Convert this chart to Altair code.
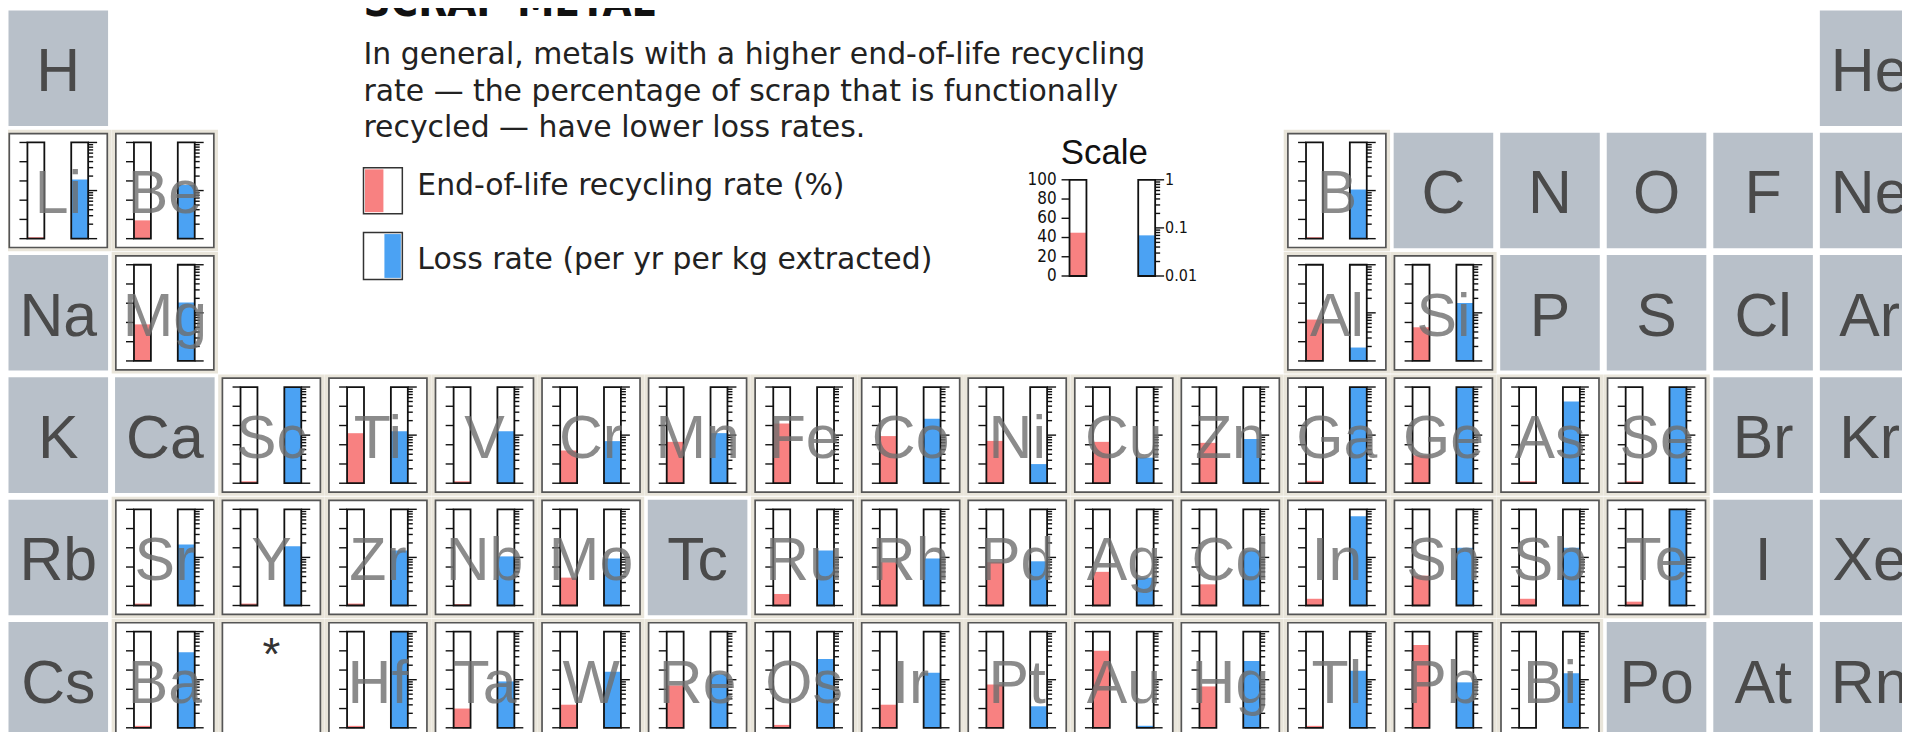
import altair as alt
import pandas as pd
import numpy as np

# ---------------- data ----------------
grey_symbols = ["H", "He", "C", "N", "O", "F", "Ne", "Na", "P", "S", "Cl", "Ar",
                "K", "Ca", "Br", "Kr", "Rb", "Tc", "I", "Xe", "Cs", "Po", "At", "Rn"]
grey_group = [1, 18, 14, 15, 16, 17, 18, 1, 15, 16, 17, 18,
              1, 2, 17, 18, 1, 7, 17, 18, 1, 16, 17, 18]
grey_period = [1, 1, 2, 2, 2, 2, 2, 3, 3, 3, 3, 3,
               4, 4, 4, 4, 5, 5, 5, 5, 6, 6, 6, 6]

metal_symbols = ["Li", "Be", "B", "Mg", "Al", "Si",
                 "Sc", "Ti", "V", "Cr", "Mn", "Fe", "Co", "Ni", "Cu", "Zn", "Ga", "Ge", "As", "Se",
                 "Sr", "Y", "Zr", "Nb", "Mo", "Ru", "Rh", "Pd", "Ag", "Cd", "In", "Sn", "Sb", "Te",
                 "Ba", "Hf", "Ta", "W", "Re", "Os", "Ir", "Pt", "Au", "Hg", "Tl", "Pb", "Bi"]
metal_group = [1, 2, 13, 2, 13, 14,
               3, 4, 5, 6, 7, 8, 9, 10, 11, 12, 13, 14, 15, 16,
               2, 3, 4, 5, 6, 8, 9, 10, 11, 12, 13, 14, 15, 16,
               2, 4, 5, 6, 7, 8, 9, 10, 11, 12, 13, 14, 15]
metal_period = [2, 2, 2, 3, 3, 3] + [4] * 14 + [5] * 14 + [6] * 13
# end-of-life recycling rate (%)
recycling_rate = [1.5, 19, 1.5, 38, 43, 35,
                  2, 52, 2, 34, 43, 62, 49, 44, 43, 42, 2.5, 29, 2, 2,
                  2, 2, 2, 1.5, 29, 12, 45, 45, 35, 22, 7, 31, 7, 4,
                  2, 2, 20, 24, 44, 3, 24, 45, 80, 43, 2, 86, 0]
# loss rate (per yr per kg extracted), log scale 0.01 - 1
loss_rate = [0.17, 0.13, 0.105, 0.165, 0.019, 0.16,
             1.0, 0.12, 0.12, 0.075, 0.11, 0.0101, 0.22, 0.025, 0.034, 0.083, 1.0, 1.0, 0.5, 1.0,
             0.186, 0.17, 0.14, 0.105, 0.095, 0.14, 0.095, 0.083, 0.038, 0.14, 0.72, 0.158, 0.158, 1.0,
             0.37, 1.0, 0.092, 0.147, 0.13, 0.27, 0.14, 0.028, 0.011, 0.245, 0.153, 0.088, 0.136]

star_symbol = ["*"]
star_group = [3]
star_period = [6]

title_text = ["SCRAP METAL"]
subtitle_lines = ["In general, metals with a higher end-of-life recycling",
                  "rate \u2014 the percentage of scrap that is functionally",
                  "recycled \u2014 have lower loss rates."]
legend_labels = ["End-of-life recycling rate (%)", "Loss rate (per yr per kg extracted)"]
scale_title = ["Scale"]
scale_example_rate = [45]
scale_example_loss = [0.07]
rate_ticks = [0, 20, 40, 60, 80, 100]
rate_tick_labels = ["0", "20", "40", "60", "80", "100"]
loss_major = [0.01, 0.1, 1]
loss_major_labels = ["0.01", "0.1", "1"]
loss_minor = [0.02, 0.03, 0.04, 0.05, 0.06, 0.07, 0.08, 0.09,
              0.2, 0.3, 0.4, 0.5, 0.6, 0.7, 0.8, 0.9]

# ---------------- layout ----------------
W, H = 1902, 724
PX, PY = 107.0, 122.8
X0, Y0 = 0.5, 1.0
CW, CH = 100.0, 116.0
RX0, RX1 = 19.0, 36.0     # red tube
BX0, BX1 = 63.0, 80.0     # blue tube
TY0, TY1 = 9.7, 106.3     # tube top/bottom
TH = TY1 - TY0
LABEL_BASE = 81.0

RED = "#f88181"
BLUE = "#4ba2f3"
GREY_CELL = "#b8c0c9"
BEIGE = "#e9e5da"
INK = "#111111"
BODY_FONT = "DejaVu Sans"


def X(f):
    return alt.X(f, type="quantitative", scale=alt.Scale(domain=[0, W], nice=False, zero=False), axis=None)


def Y(f):
    return alt.Y(f, type="quantitative", scale=alt.Scale(domain=[0, H], nice=False, zero=False, reverse=True), axis=None)


def lfrac(v):
    return (np.log10(np.asarray(v, dtype=float)) + 2.0) / 2.0


grey = pd.DataFrame({"sym": grey_symbols, "g": grey_group, "p": grey_period})
grey["x0"] = X0 + (grey.g - 1) * PX
grey["y0"] = Y0 + (grey.p - 1) * PY

met = pd.DataFrame({"sym": metal_symbols, "g": metal_group, "p": metal_period,
                    "rate": recycling_rate, "loss": loss_rate})
met["x0"] = X0 + (met.g - 1) * PX
met["y0"] = Y0 + (met.p - 1) * PY

star = pd.DataFrame({"sym": star_symbol, "g": star_group, "p": star_period})
star["x0"] = X0 + (star.g - 1) * PX
star["y0"] = Y0 + (star.p - 1) * PY

framed = pd.concat([met[["sym", "x0", "y0"]], star[["sym", "x0", "y0"]]], ignore_index=True)
framed["bx0"] = framed.x0 - 3.4
framed["bx1"] = framed.x0 + CW + 3.4
framed["by0"] = framed.y0 - 3.0
framed["by1"] = framed.y0 + CH + 3.0
framed["fx0"] = framed.x0 + 0.8
framed["fx1"] = framed.x0 + CW - 0.8
framed["fy0"] = framed.y0 + 0.8
framed["fy1"] = framed.y0 + CH - 0.8

grey["x1"] = grey.x0 + CW
grey["y1"] = grey.y0 + CH
grey["cx"] = grey.x0 + CW / 2
grey["by"] = grey.y0 + LABEL_BASE

# gauges (metals + scale example)
gauge = met[["sym", "x0", "y0", "rate", "loss"]].copy()
gauge["rx0"] = gauge.x0 + RX0
gauge["rx1"] = gauge.x0 + RX1
gauge["bx0"] = gauge.x0 + BX0
gauge["bx1"] = gauge.x0 + BX1
# scale example gauge placed in the legend area
SX, SY = 1066.0, 171.0 - TY0
sc = pd.DataFrame({"sym": ["scale"], "x0": [SX - RX0], "y0": [SY],
                   "rate": scale_example_rate, "loss": scale_example_loss})
sc["rx0"] = SX
sc["rx1"] = SX + (RX1 - RX0)
sc["bx0"] = SX + 69
sc["bx1"] = SX + 69 + (BX1 - BX0)
gauge = pd.concat([gauge, sc], ignore_index=True)
gauge["ybot"] = gauge.y0 + TY1
gauge["ytop"] = gauge.y0 + TY0
gauge["ry"] = gauge.ybot - gauge.rate / 100.0 * TH
gauge["by"] = gauge.ybot - np.clip(lfrac(gauge.loss), 0, 1) * TH

# ticks
rows = []
for _, r in gauge.iterrows():
    for v in rate_ticks:
        yy = r.ybot - v / 100.0 * TH
        rows.append({"x": r.rx0 - 8, "x2": r.rx0, "y": yy})
    for v in loss_major:
        yy = r.ybot - lfrac(v) * TH
        rows.append({"x": r.bx1, "x2": r.bx1 + 9, "y": yy})
    for v in loss_minor:
        yy = r.ybot - lfrac(v) * TH
        rows.append({"x": r.bx1, "x2": r.bx1 + 5, "y": yy})
ticks = pd.DataFrame(rows)

sc_row = sc.iloc[0]
rate_lab = pd.DataFrame({"t": rate_tick_labels,
                         "x": sc_row.rx0 - 13,
                         "y": [SY + TY1 - v / 100.0 * TH for v in rate_ticks]})
loss_lab = pd.DataFrame({"t": loss_major_labels,
                         "x": sc_row.bx1 + 10,
                         "y": [SY + TY1 - float(lfrac(v)) * TH for v in loss_major]})

met["cx"] = met.x0 + CW / 2
met["ly"] = met.y0 + LABEL_BASE
star["cx"] = star.x0 + CW / 2
star["ly"] = star.y0 + 48

# legend text
LX = 357.0
sub = pd.DataFrame({"t": subtitle_lines, "x": LX, "y": [55 + i * 36.5 for i in range(len(subtitle_lines))]})
ttl = pd.DataFrame({"t": title_text, "x": LX, "y": [7.0]})
leg = pd.DataFrame({"t": legend_labels, "x": LX + 54, "y": [186.0, 261.0],
                    "sx0": LX, "sx1": LX + 39, "sy0": [159.0, 224.0], "sy1": [205.0, 271.0]})
leg_fill = pd.DataFrame({"sx0": [LX + 1.5, LX + 21], "sx1": [LX + 20, LX + 37.5],
                         "sy0": [160.5, 225.5], "sy1": [203.5, 269.5], "c": ["r", "b"]})
scl = pd.DataFrame({"t": scale_title, "x": [(sc_row.rx0 + sc_row.bx1) / 2 - 8], "y": [155.0]})

# ---------------- layers ----------------
beige = alt.Chart(framed).mark_rect(fill=BEIGE).encode(x=X("bx0"), x2="bx1", y=Y("by0"), y2="by1")
white = alt.Chart(framed).mark_rect(fill="white", stroke="#555555", strokeWidth=1.7).encode(
    x=X("fx0"), x2="fx1", y=Y("fy0"), y2="fy1")
greys = alt.Chart(grey).mark_rect(fill=GREY_CELL).encode(x=X("x0"), x2="x1", y=Y("y0"), y2="y1")
grey_txt = alt.Chart(grey).mark_text(font="Liberation Sans", fontSize=61, color="#4a4a4a",
                                     align="center", baseline="alphabetic").encode(
    x=X("cx"), y=Y("by"), text="sym:N")

tube_bg = alt.Chart(gauge).mark_rect(fill="white").encode(x=X("rx0"), x2="rx1", y=Y("ytop"), y2="ybot")
tube_bg2 = alt.Chart(gauge).mark_rect(fill="white").encode(x=X("bx0"), x2="bx1", y=Y("ytop"), y2="ybot")
red_fill = alt.Chart(gauge).mark_rect(fill=RED).encode(x=X("rx0"), x2="rx1", y=Y("ry"), y2="ybot")
blue_fill = alt.Chart(gauge).mark_rect(fill=BLUE).encode(x=X("bx0"), x2="bx1", y=Y("by"), y2="ybot")
red_out = alt.Chart(gauge).mark_rect(fillOpacity=0, stroke=INK, strokeWidth=1.8).encode(
    x=X("rx0"), x2="rx1", y=Y("ytop"), y2="ybot")
blue_out = alt.Chart(gauge).mark_rect(fillOpacity=0, stroke=INK, strokeWidth=1.8).encode(
    x=X("bx0"), x2="bx1", y=Y("ytop"), y2="ybot")
tick_l = alt.Chart(ticks).mark_rule(color=INK, strokeWidth=1.4).encode(x=X("x"), x2="x2", y=Y("y"))

met_txt = alt.Chart(met).mark_text(font="Liberation Sans", fontSize=61, color="#6f6f6f", opacity=0.8,
                                   align="center", baseline="alphabetic").encode(
    x=X("cx"), y=Y("ly"), text="sym:N")
star_txt = alt.Chart(star).mark_text(font="Liberation Sans", fontSize=46, color="#333333",
                                     align="center", baseline="alphabetic").encode(
    x=X("cx"), y=Y("ly"), text="sym:N")

title_l = alt.Chart(ttl).mark_text(font="DejaVu Sans Condensed", fontWeight="bold", fontSize=42,
                                   color="#111111", align="left", baseline="alphabetic").encode(
    x=X("x"), y=Y("y"), text="t:N")
sub_l = alt.Chart(sub).mark_text(font=BODY_FONT, fontSize=30, color="#222222",
                                 align="left", baseline="alphabetic").encode(x=X("x"), y=Y("y"), text="t:N")
leg_box = alt.Chart(leg).mark_rect(fill="white", stroke="#333333", strokeWidth=1.5).encode(
    x=X("sx0"), x2="sx1", y=Y("sy0"), y2="sy1")
leg_fill_l = alt.Chart(leg_fill).mark_rect().encode(
    x=X("sx0"), x2="sx1", y=Y("sy0"), y2="sy1",
    color=alt.Color("c:N", scale=alt.Scale(domain=["r", "b"], range=[RED, BLUE]), legend=None))
leg_txt = alt.Chart(leg).mark_text(font=BODY_FONT, fontSize=30, color="#222222",
                                   align="left", baseline="alphabetic").encode(x=X("x"), y=Y("y"), text="t:N")
scale_t = alt.Chart(scl).mark_text(font="Liberation Sans", fontSize=35, color="#111111",
                                   align="center", baseline="alphabetic").encode(x=X("x"), y=Y("y"), text="t:N")
rate_t = alt.Chart(rate_lab).mark_text(font="DejaVu Sans Condensed", fontSize=17, color="#111111",
                                       align="right", baseline="middle").encode(x=X("x"), y=Y("y"), text="t:N")
loss_t = alt.Chart(loss_lab).mark_text(font="DejaVu Sans Condensed", fontSize=16, color="#111111",
                                       align="left", baseline="middle").encode(x=X("x"), y=Y("y"), text="t:N")

chart = alt.layer(
    beige, white, greys, grey_txt,
    tube_bg, tube_bg2, red_fill, blue_fill, red_out, blue_out, tick_l,
    met_txt, star_txt,
    title_l, sub_l, leg_box, leg_fill_l, leg_txt, scale_t, rate_t, loss_t,
).properties(
    width=W, height=H, padding=0,
    autosize=alt.AutoSizeParams(type="none"),
    background="white",
).configure_view(strokeWidth=0)

chart.save("out.html", embed_options={"renderer": "svg", "actions": False})
